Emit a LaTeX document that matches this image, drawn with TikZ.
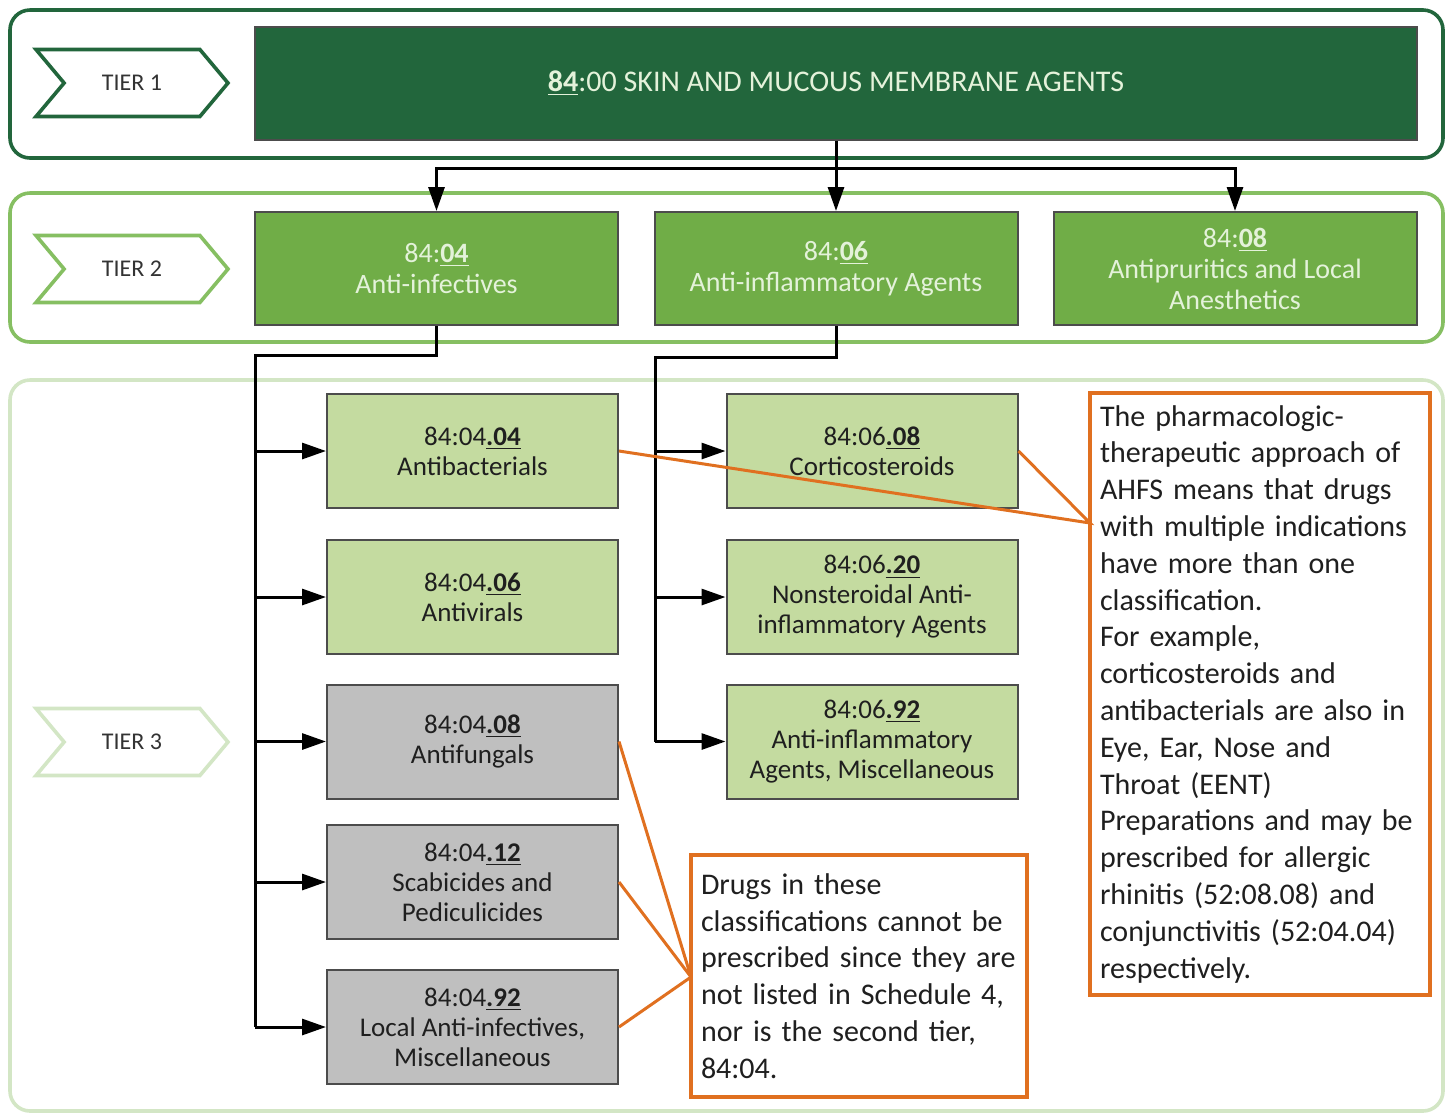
\documentclass[tikz,border=0pt]{standalone}
\usepackage{fontspec}
\setmainfont{Carlito}
\usetikzlibrary{arrows.meta,shapes.symbols,positioning}

\definecolor{tieronegreen}{HTML}{22663C}
\definecolor{tiertwogreen}{HTML}{70AD47}
\definecolor{tiertwoline}{HTML}{86BF62}
\definecolor{tierthreegreen}{HTML}{C4DBA0}
\definecolor{tierthreeline}{HTML}{D3E6C5}
\definecolor{paletext}{HTML}{E4F2DA}
\definecolor{notebrown}{HTML}{E07020}
\definecolor{boxgray}{HTML}{BFBFBF}

\begin{document}
\begin{tikzpicture}[x=0.5pt,y={(0pt,-0.5pt)},
    tiertag/.style={signal, signal from=west, signal to=east, signal pointer angle=100,
        draw, line width=1.8pt, fill=white, minimum width=96pt, minimum height=33.5pt,
        font=\fontsize{12}{14}\selectfont, text=black!80},
    toptier/.style={draw=black!70, line width=1pt, fill=tieronegreen, text=paletext,
        minimum width=581pt, minimum height=56.5pt, font=\fontsize{15}{18}\selectfont},
    midtier/.style={draw=black!70, line width=1pt, fill=tiertwogreen, text=paletext,
        minimum width=181.5pt, minimum height=56.5pt, align=center,
        font=\fontsize{14}{15.5}\selectfont},
    subtier/.style={draw=black!70, line width=1pt, fill=tierthreegreen, text=black!88,
        minimum width=145.5pt, minimum height=57pt, align=center,
        font=\fontsize{13.5}{15}\selectfont},
    blocked/.style={subtier, fill=boxgray},
    notebox/.style={draw=notebrown, line width=2pt, fill=white, align=left,
        inner xsep=5pt, font=\fontsize{15}{18.4}\selectfont, text=black!88},
    link/.style={line width=1.5pt, -{Triangle[length=12pt,width=8pt]}},
    callout/.style={draw=notebrown, line width=1.5pt}]
\useasboundingbox (0,0) rectangle (1451,1116);

% tier frames
\draw[tieronegreen, line width=1.8pt, rounded corners=10pt] (10,10) rectangle (1443,158);
\draw[tiertwoline, line width=1.8pt, rounded corners=10pt] (10,193) rectangle (1443,342);
\draw[tierthreeline, line width=1.8pt, rounded corners=10pt] (10,380) rectangle (1443,1111);

\node[tiertag, draw=tieronegreen] (tag1) at (132,83) {TIER 1};
\node[tiertag, draw=tiertwoline] (tag2) at (132,269) {TIER 2};
\node[tiertag, draw=tierthreeline] (tag3) at (132,742) {TIER 3};

% tier 1
\node[toptier] (skin) at (836,83.5) {\underline{\textbf{84}}:00 SKIN AND MUCOUS MEMBRANE AGENTS};

% tier 2
\node[midtier] (anti) at (436.5,268.5) {84:\underline{\textbf{04}}\\Anti-infectives};
\node[midtier] (inflam) at (836,268.5) {84:\underline{\textbf{06}}\\Anti-inflammatory Agents};
\node[midtier] (prurit) at (1235,268.5) {84:\underline{\textbf{08}}\\Antipruritics and Local\\Anesthetics};

% tier 3
\node[subtier] (bact) at (472.5,451) {84:04\underline{\textbf{.04}}\\Antibacterials};
\node[subtier] (viral) at (472.5,597) {84:04\underline{\textbf{.06}}\\Antivirals};
\node[blocked] (fungal) at (472.5,741.5) {84:04\underline{\textbf{.08}}\\Antifungals};
\node[blocked] (scab) at (472.5,882) {84:04\underline{\textbf{.12}}\\Scabicides and\\Pediculicides};
\node[blocked] (local) at (472.5,1027) {84:04\underline{\textbf{.92}}\\Local Anti-infectives,\\Miscellaneous};
\node[subtier] (cortic) at (872,451) {84:06\underline{\textbf{.08}}\\Corticosteroids};
\node[subtier] (nsaid) at (872,597) {84:06\underline{\textbf{.20}}\\Nonsteroidal Anti-\\inflammatory Agents};
\node[subtier] (misc) at (872,741.5) {84:06\underline{\textbf{.92}}\\Anti-inflammatory\\Agents, Miscellaneous};

% notes
\node[notebox, text width=160pt, minimum height=301pt] (multi) at (1260,694) {The pharmacologic-\\therapeutic approach of\\AHFS means that drugs\\with multiple indications\\have more than one\\classification.\\For example,\\corticosteroids and\\antibacterials are also in\\Eye, Ear, Nose and\\Throat (EENT)\\Preparations and may be\\prescribed for allergic\\rhinitis (52:08.08) and\\conjunctivitis (52:04.04)\\respectively.};
\node[notebox, text width=158pt, minimum height=121pt] (sched) at (859,976) {Drugs in these\\classifications cannot be\\prescribed since they are\\not listed in Schedule 4,\\nor is the second tier,\\84:04.};

% connectors
\coordinate (hub) at (836,168);
\draw[link] (skin) -- (inflam);
\draw[link] (hub) -| (anti);
\draw[link] (hub) -| (prurit);

\coordinate (antibend) at (255,355);
\draw[line width=1.5pt] (anti.south) |- (antibend) -- (antibend |- local.west);
\foreach \n in {bact,viral,fungal,scab,local}
    \draw[link] (antibend |- \n.west) -- (\n.west);

\coordinate (inflambend) at (655,357);
\draw[line width=1.5pt] (inflam.south) |- (inflambend) -- (inflambend |- misc.west);
\foreach \n in {cortic,nsaid,misc}
    \draw[link] (inflambend |- \n.west) -- (\n.west);

\coordinate (multipin) at (1090,523);
\coordinate (schedpin) at (691,977);
\draw[callout] (bact.east) -- (multipin) -- (cortic.east);
\foreach \n in {fungal,scab,local}
    \draw[callout] (\n.east) -- (schedpin);
\end{tikzpicture}
\end{document}
